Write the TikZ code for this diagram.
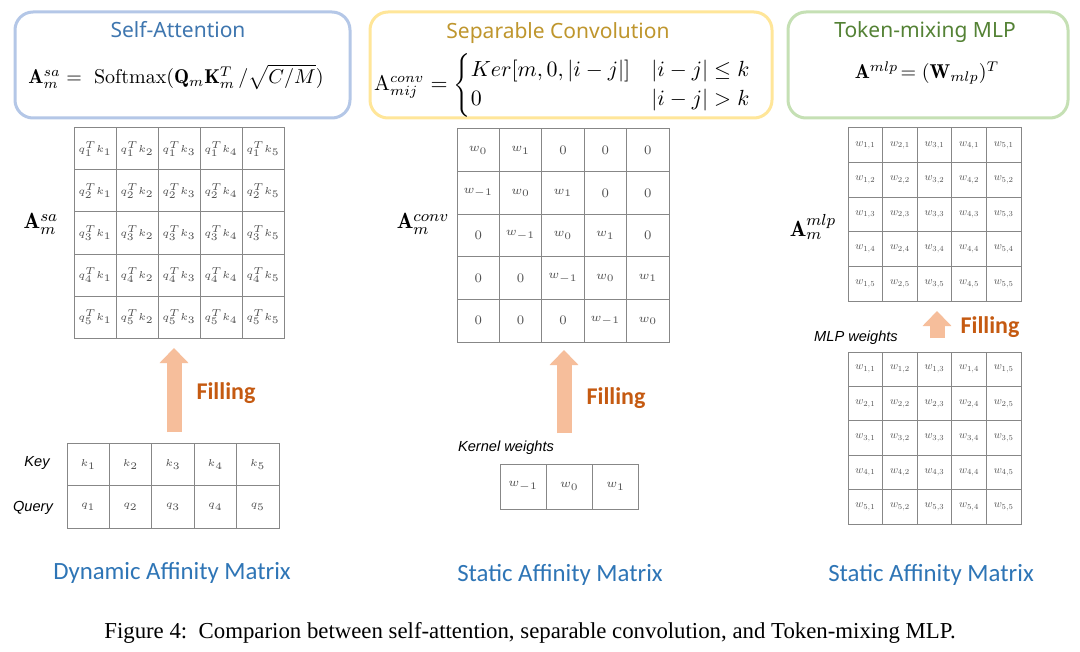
\documentclass[tikz,border=0pt]{standalone}
\usepackage{amsmath,amssymb}
\usepackage{graphicx}
\usepackage{fontspec}
\usepackage{tikz}
\usetikzlibrary{arrows.meta, positioning, calc}
\usepackage{xcolor}
\newfontfamily\headfont{Noto Sans}
\newfontfamily\labelfont{Carlito}
\newfontfamily\notefont{Liberation Sans}
\newfontfamily\capfont{Liberation Serif}
\definecolor{saframe}{RGB}{180,199,231}
\definecolor{satitle}{RGB}{62,118,175}
\definecolor{convframe}{RGB}{255,230,153}
\definecolor{convtitle}{RGB}{191,150,45}
\definecolor{mlpframe}{RGB}{197,224,180}
\definecolor{mlptitle}{RGB}{84,130,53}
\definecolor{cellgray}{RGB}{135,135,135}
\definecolor{celltext}{RGB}{80,80,80}
\definecolor{fillpeach}{RGB}{246,190,155}
\definecolor{fillbrown}{RGB}{197,90,17}
\definecolor{kindblue}{RGB}{46,117,182}
\newcommand{\cellmath}[2]{\scalebox{#1}{$#2$}}

\begin{document}
\begin{tikzpicture}[x=0.5pt, y=-0.5pt,
      panel/.style={draw, line width=1.5pt, rounded corners=9pt, minimum height=53pt, inner sep=0pt},
      headline/.style={font=\headfont\fontsize{10.5}{12}\selectfont, inner sep=0pt},
      formula/.style={font=\fontsize{10}{12}\selectfont, inner sep=0pt},
      matlabel/.style={font=\fontsize{11}{13}\selectfont, inner sep=0pt},
      cell/.style={draw=cellgray, line width=0.5pt, inner sep=0pt, text=celltext,
        font=\fontsize{5.5}{6.5}\selectfont},
      note/.style={font=\notefont\itshape\fontsize{7.3}{9}\selectfont, inner sep=0pt},
      fillarrow/.style={draw=fillpeach, line width=7.5pt, -{Triangle[width=14pt, length=7.5pt]}},
      filltext/.style={font=\labelfont\bfseries\fontsize{12}{14}\selectfont, text=fillbrown, inner sep=0pt},
      kind/.style={font=\labelfont\fontsize{12.4}{14}\selectfont, text=kindblue, inner sep=0pt}
    ]
      \fill[white] (0,0) rectangle (1080,652);
      \useasboundingbox (0,0) rectangle (1080,652);
      % --- Top row: the three formula panels ---
      \node[panel, draw=saframe, minimum width=167.5pt] (sabox) at (182.5,65) {};
      \node[headline, text=satitle] (satitle) at (178,30) {Self-Attention};
      \node[formula] (saform) at (176,77)
        {$\mathbf{A}_m^{sa} =\ \mathrm{Softmax}(\mathbf{Q}_m\mathbf{K}_m^{T}\,/\sqrt{C/M})$};
      \node[panel, draw=convframe, minimum width=201pt] (convbox) at (571,65) {};
      \node[headline, text=convtitle] (convtitle) at (558,33) {Separable Convolution};
      \node[formula, font=\fontsize{10.6}{12}\selectfont] (convform) at (563,85)
        {$\mathrm{A}_{mij}^{conv} = \begin{cases} Ker[m,0,|i-j|] & |i-j|\le k\\ 0 & |i-j|>k\end{cases}$};
      \node[panel, draw=mlpframe, minimum width=140pt] (mlpbox) at (928,65) {};
      \node[headline, text=mlptitle] (mlptitle) at (925,32) {Token-mixing MLP};
      \node[formula] (mlpform) at (927,73) {$\mathbf{A}^{mlp}\!= (\mathbf{W}_{mlp})^{T}$};

      % --- Self-attention: affinity matrix filled from key and query ---
      \foreach \r in {1,...,5}{
        \foreach \c in {1,...,5}{
          \node[cell, minimum width=21pt, minimum height=21pt] (sa-\r-\c)
            at ({74+42*(\c-0.5)},{128+42*(\r-0.5)}) {$q_{\r}^{T}k_{\c}$};
        }
      }
      \node[matlabel] (salabel) at (41,224) {$\mathbf{A}_m^{sa}$};
      \foreach \c in {1,...,5}{
        \node[cell, minimum width=21.2pt, minimum height=21.25pt] (kq-1-\c)
          at ({67+42.4*(\c-0.5)},464.25) {$k_{\c}$};
        \node[cell, minimum width=21.2pt, minimum height=21.25pt] (kq-2-\c)
          at ({67+42.4*(\c-0.5)},506.75) {$q_{\c}$};
      }
      \node[note] (keylabel) at (37,463) {Key};
      \node[note] (querylabel) at (33,508) {Query};
      \coordinate (sa-foot) at (174,432);
      \coordinate (sa-tip) at (174,348);
      \draw[fillarrow] (sa-foot) -- (sa-tip);
      \node[filltext] (safill) at (226,393) {Filling};

      % --- Separable convolution: banded matrix from kernel weights ---
      \foreach \r in {1,...,5}{
        \foreach \c in {1,...,5}{
          \pgfmathtruncatemacro\dd{\c-\r}
          \ifnum\dd=0 \def\cval{$w_0$}\else
            \ifnum\dd=1 \def\cval{$w_1$}\else
              \ifnum\dd=-1 \def\cval{$w_{-1}$}\else\def\cval{0}\fi\fi\fi
          \node[cell, minimum width=21.2pt, minimum height=21.3pt, font=\fontsize{6.5}{7}\selectfont]
            (conv-\r-\c) at ({457+42.4*(\c-0.5)},{129+42.6*(\r-0.5)}) {\cval};
        }
      }
      \node[matlabel] (convlabel) at (423,224) {$\mathbf{A}_m^{conv}$};
      \node[cell, minimum width=23.15pt, minimum height=22.5pt, font=\fontsize{6.5}{7}\selectfont]
        (kern-1) at (523.15,486.5) {$w_{-1}$};
      \node[cell, minimum width=23.15pt, minimum height=22.5pt, font=\fontsize{6.5}{7}\selectfont]
        (kern-2) at (569.45,486.5) {$w_{0}$};
      \node[cell, minimum width=23.15pt, minimum height=22.5pt, font=\fontsize{6.5}{7}\selectfont]
        (kern-3) at (615.75,486.5) {$w_{1}$};
      \node[note] (kernlabel) at (506,448) {Kernel weights};
      \coordinate (conv-foot) at (564,433);
      \coordinate (conv-tip) at (564,350);
      \draw[fillarrow] (conv-foot) -- (conv-tip);
      \node[filltext] (convfill) at (616,398) {Filling};

      % --- Token-mixing MLP: transposed weight matrix ---
      \foreach \r in {1,...,5}{
        \foreach \c in {1,...,5}{
          \node[cell, minimum width=17.3pt, minimum height=17.3pt, font=\fontsize{10}{12}\selectfont]
            (mlp-\r-\c) at ({848+34.6*(\c-0.5)},{128+34.6*(\r-0.5)}) {\cellmath{0.55}{w_{\c,\r}}};
          \node[cell, minimum width=17.3pt, minimum height=17.2pt, font=\fontsize{10}{12}\selectfont]
            (mlpw-\r-\c) at ({848+34.6*(\c-0.5)},{352+34.4*(\r-0.5)}) {\cellmath{0.55}{w_{\r,\c}}};
        }
      }
      \node[matlabel] (mlplabel) at (813,227) {$\mathbf{A}_m^{mlp}$};
      \node[note] (mlpwlabel) at (856,338) {MLP weights};
      \coordinate (mlp-foot) at (937,338);
      \coordinate (mlp-tip) at (937,311);
      \draw[fillarrow] (mlp-foot) -- (mlp-tip);
      \node[filltext] (mlpfill) at (990,327) {Filling};

      % --- Bottom labels and caption ---
      \node[kind] (sakind) at (172,573) {Dynamic Affinity Matrix};
      \node[kind] (convkind) at (560,575) {Static Affinity Matrix};
      \node[kind] (mlpkind) at (931,575) {Static Affinity Matrix};
      \node[font=\capfont\fontsize{11.4}{13}\selectfont, inner sep=0pt] (caption) at (530,633)
        {Figure 4:\ \ Comparion between self-attention, separable convolution, and Token-mixing MLP.};
    \end{tikzpicture}
\end{document}
